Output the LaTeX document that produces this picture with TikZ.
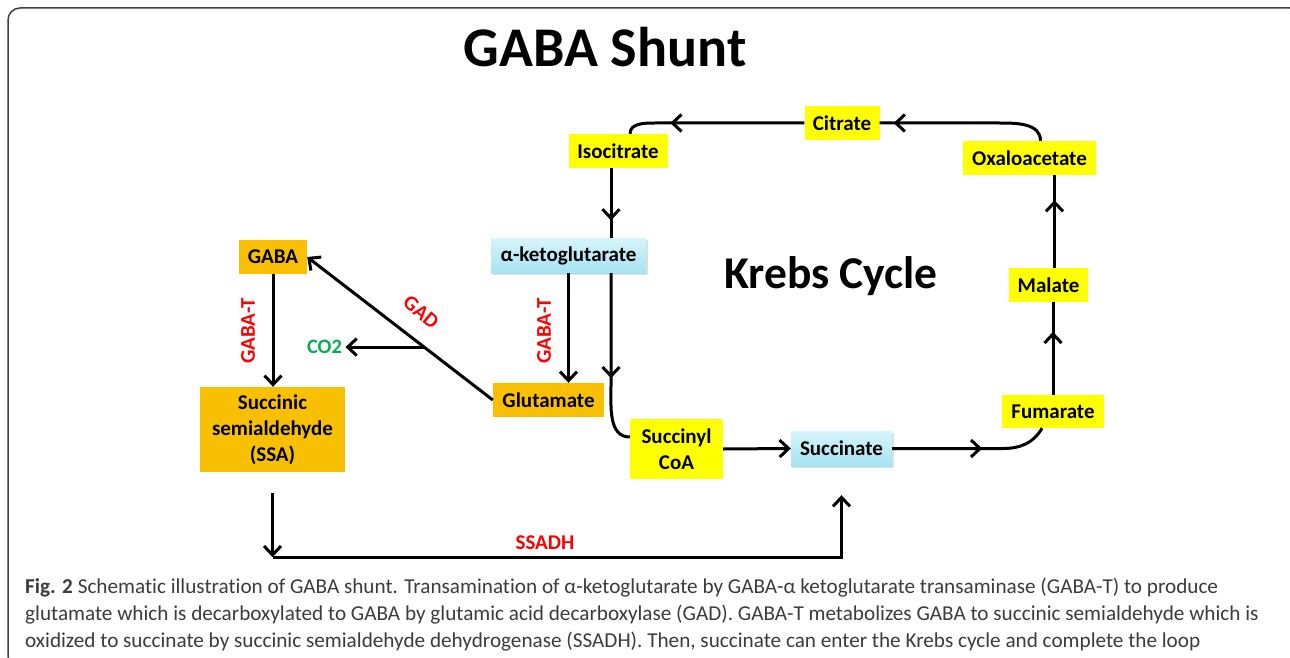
\documentclass[tikz,border=0pt]{standalone}
\usepackage{fontspec}
\setmainfont{Carlito}[Ligatures=NoCommon]
\usetikzlibrary{arrows.meta,positioning,decorations.markings,calc,shadows}
\definecolor{shuntorange}{RGB}{248,192,0}
\definecolor{krebsyellow}{RGB}{255,255,0}
\definecolor{pooltop}{RGB}{214,244,250}
\definecolor{poolbottom}{RGB}{166,227,242}
\definecolor{enzymered}{RGB}{255,0,0}
\definecolor{gasgreen}{RGB}{0,176,80}
\definecolor{captiongray}{RGB}{60,60,60}
\tikzset{
metabolite/.style={inner sep=0pt, minimum height=34pt, align=center, font=\fontsize{21}{26}\selectfont\bfseries},
shunt/.style={metabolite, fill=shuntorange},
krebs/.style={metabolite, fill=krebsyellow},
pool/.style={metabolite, top color=pooltop, bottom color=poolbottom,
    drop shadow={opacity=0.25, shadow xshift=1.5pt, shadow yshift=-2pt}},
enzyme/.style={text=enzymered, font=\fontsize{21}{24}\selectfont\bfseries},
gas/.style={text=gasgreen, font=\fontsize{20.5}{24}\selectfont\bfseries},
captionline/.style={anchor=base west, inner sep=0pt, text=captiongray, font=\fontsize{21.2}{27}\selectfont},
line/.style={line width=3pt},
arr/.style={line, ->, >={Straight Barb[length=9pt,width=17pt]}},
midarrow/.style={postaction=decorate,decoration={markings, mark=at position #1 with {\arrow{Straight Barb[length=9pt,width=17pt]}}} },
midarrow/.default=.5,
}

\begin{document}
\begin{tikzpicture}[x=1pt,y=1pt]
    \useasboundingbox (0,0) rectangle (1290,-658);
    \fill[white] (0,0) rectangle (1290,-658);
    \draw[black!75, line width=1.5pt, rounded corners=12pt] (8,-8) rectangle (1302,-668);

    \node[font=\fontsize{56}{60}\selectfont\bfseries] (title) at (605,-47) {GABA Shunt};
    \node[font=\fontsize{45.5}{50}\selectfont\bfseries] (cycle) at (831,-276) {Krebs Cycle};

    % Krebs cycle
    \node[krebs, minimum width=75pt] (cit) at (842,-123) {Citrate};
    \node[krebs, minimum width=99pt] (iso) at (618,-151) {Isocitrate};
    \node[krebs, minimum width=133pt] (oxa) at (1029.5,-158) {Oxaloacetate};
    \node[krebs, minimum width=79pt] (mal) at (1048.5,-285) {Malate};
    \node[krebs, minimum width=102pt, minimum height=33pt] (fum) at (1053,-411.5) {Fumarate};
    \node[pool, minimum width=101pt, minimum height=35pt] (suc) at (841.5,-448.5) {Succinate};
    \node[krebs, minimum width=93pt, minimum height=60pt] (sco) at (676.5,-449) {Succinyl\\CoA};
    \node[pool, minimum width=155pt, minimum height=35pt] (akg) at (568.5,-255.5) {α-ketoglutarate};

    % shunt
    \node[shunt, minimum width=68pt] (gaba) at (273,-257) {GABA};
    \node[shunt, minimum width=111pt] (glu) at (548.5,-400) {Glutamate};
    \node[shunt, minimum width=145pt, minimum height=85pt] (ssa) at (272.5,-429.5) {Succinic\\semialdehyde\\(SSA)};

    \node[enzyme, rotate=90] (gabat) at (248,-331) {GABA-T};
    \node[enzyme, rotate=90] (akgt) at (544,-331) {GABA-T};
    \node[enzyme, rotate=-40, inner sep=1pt] (gad) at (421,-312) {GAD};
    \node[enzyme] (ssadh) at (545,-543) {SSADH};
    \node[gas] (co2) at (324.5,-347) {CO2};

    \draw[line, midarrow=-14pt] ([xshift=11pt]oxa.north) to[out=90,in=0] ([xshift=-30pt]oxa.north |- cit.east) -- (cit.east);
    \draw[line, midarrow=134pt] (cit.west) -- ([xshift=37pt]iso.north |- cit.west) to[out=180,in=90] ([xshift=12pt]iso.north);
    \draw[line, midarrow=.75] ([xshift=-7pt]iso.south) -- ([xshift=-7pt]iso.south |- akg.north);
    \draw[line, midarrow=105pt] ([xshift=42.5pt]akg.south) -- ++(0,-112) to[out=-90,in=180] ([yshift=12pt]sco.west);
    \draw[arr] (sco.east) -- (suc.west);
    \draw[line, midarrow=90pt] (suc.east) -- ([xshift=-50pt]fum.south |- suc.east) to[out=0,in=-120] ([xshift=-11pt]fum.south);
    \draw[line, midarrow=.68] (fum.north) -- (fum.north |- mal.south);
    \draw[line, midarrow=.73] ([xshift=6pt]mal.north) -- ([xshift=6pt]mal.north |- oxa.south);

    \draw[arr] (akg.south) -- (akg.south |- glu.north);
    \draw[arr] (gaba.south) -- (gaba.south |- ssa.north);
    \draw[arr] (glu.west) -- (gaba.east);
    \coordinate (decarb) at ($(glu.west)!0.37!(gaba.east)$);
    \draw[arr] (decarb) -- (decarb -| co2.east);

    \coordinate (ssaout) at ([yshift=-21pt]ssa.south);
    \coordinate (bend) at ([yshift=-85pt]ssa.south);
    \coordinate (sucin) at ([yshift=-29pt]suc.south);
    \draw[arr] (ssaout) -- (bend);
    \draw[arr] (bend) -- (bend -| sucin) -- (sucin);

    \node[captionline] (cap1) at (25,-593) {\textbf{Fig. 2} Schematic illustration of GABA shunt. Transamination of α-ketoglutarate by GABA-α ketoglutarate transaminase (GABA-T) to produce};
    \node[captionline] (cap2) at (25,-620) {glutamate which is decarboxylated to GABA by glutamic acid decarboxylase (GAD). GABA-T metabolizes GABA to succinic semialdehyde which is};
    \node[captionline] (cap3) at (25,-647) {oxidized to succinate by succinic semialdehyde dehydrogenase (SSADH). Then, succinate can enter the Krebs cycle and complete the loop};
\end{tikzpicture}
\end{document}
